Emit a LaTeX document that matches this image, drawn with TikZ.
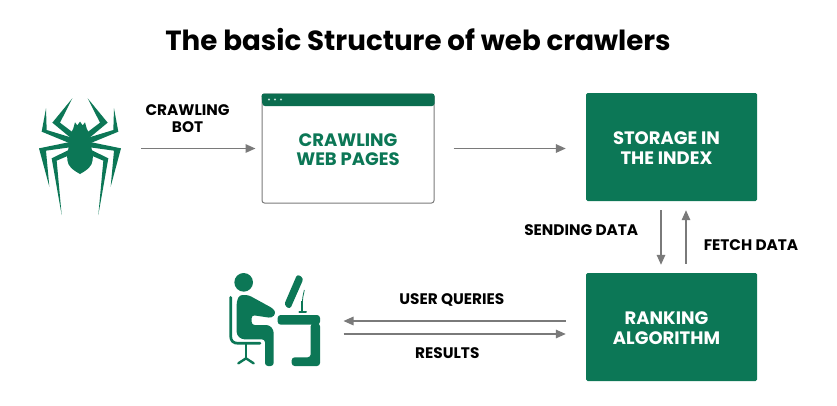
\documentclass[tikz,border=0pt]{standalone}
\usepackage{fontspec}
\setmainfont{Poppins}
\usepackage{tikz}
\usetikzlibrary{positioning, arrows.meta}
\definecolor{webgreen}{HTML}{0C7756}
\definecolor{flowgray}{HTML}{7A7A7A}
\tikzset{
->, % directed connectors
>={Triangle[length=10pt, width=8.5pt]}, % solid heads
flow/.style={draw=flowgray, line width=1.5pt},
every edge/.append style={flow},
caption/.style={font=\fontsize{15.3}{17}\selectfont\bfseries, align=center, text=black, inner sep=0pt},
greenbox/.style={fill=webgreen, minimum width=171pt, minimum height=108pt, rounded corners=1.5pt},
boxtext/.style={text=white, font=\fontsize{18}{20}\selectfont\bfseries, align=center, xshift=-5pt, yshift=-0.7pt, inner sep=0pt},
pagebox/.style={draw=flowgray, line width=1pt, fill=white, minimum width=172pt, minimum height=109pt, rounded corners=2.5pt},
pagetext/.style={text=webgreen, font=\fontsize{18}{19.5}\selectfont\bfseries, align=center, yshift=-1pt, inner sep=0pt},
iconbox/.style={inner sep=0pt, outer sep=0pt},
}

\begin{document}
\begin{tikzpicture}[x=1pt, y=-1pt]
    \useasboundingbox[-] (0,0) rectangle (837,405);
    \node[font=\fontsize{27.7}{32}\selectfont\bfseries] (title) at (418,40) {The basic Structure of web crawlers};

    % the nodes
    \node[iconbox, minimum width=84pt, minimum height=116pt] (spider) at (80,148.5) {};
    \node[pagebox, right of=spider, node distance=268pt,
        label={[pagetext, name=pagestext]center:{CRAWLING\\WEB PAGES}}] (pages) {};
    \node[greenbox, right of=pages, node distance=323.5pt, yshift=1.5pt,
        label={[boxtext, name=storagetext]center:{STORAGE IN\\THE INDEX}}] (storage) {};
    \node[greenbox, below of=storage, node distance=180pt,
        label={[boxtext, name=rankingtext]center:{RANKING\\ALGORITHM}}] (ranking) {};
    \node[iconbox, minimum width=92pt, minimum height=94pt] (user) at (274.5,327) {};

    % spider
    \begin{scope}[shift={(80,80)}, scale=1/3, fill=webgreen, draw=none]
        \foreach \side in {1,-1}{
            \begin{scope}[xscale=\side]
                \fill (-23,55) -- (-83,128) -- (-25,176) -- (-18,160) -- (-60,128) -- cycle;
                \fill (-102,85) -- (-115,155) -- (-30,190) -- (-28,172) -- (-100,150) -- cycle;
                \fill (-92,320) -- (-123,205) -- (-30,186) -- (-30,202) -- (-102,212) -- cycle;
                \fill (-55,405) -- (-85,235) -- (-30,208) -- (-28,224) -- (-70,242) -- cycle;
                \fill (0,125) -- (-8,136) -- (-15,127) -- (-20,145)
                    .. controls (-30,160) and (-30,180) .. (-32,195)
                    .. controls (-36,210) and (-40,225) .. (-38,240)
                    .. controls (-36,258) and (-25,268) .. (0,282) -- cycle;
            \end{scope}
        }
    \end{scope}

    % person at the desk
    \begin{scope}[shift={(210,260)}, scale=1/3, webgreen]
        \fill (101,67) circle (28);
        \draw[-, line width=2.7pt, line cap=round] (62,112) -- (62,228) .. controls (62,243) and (70,250) .. (85,250) -- (150,250);
        \draw[-, line width=2.6pt] (108,250) -- (108,295);
        \draw[-, line width=2.4pt, line cap=round] (85,310) -- (108,295) -- (131,310);
        \fill[rounded corners=3pt] (80,125) -- (88,105) -- (115,105) -- (190,146) -- (198,160) -- (185,174)
            -- (125,165) -- (125,195) -- (178,195) -- (191,210) -- (191,318) -- (165,318) -- (165,238) -- (95,238) -- (80,225) -- cycle;
        \fill[rounded corners=3pt] (262,42) -- (281,55) -- (240,148) -- (222,135) -- cycle;
        \draw[-, line width=0.8pt] (283,90) .. controls (280,105) and (277,115) .. (277,125);
        \draw[-, line width=1.8pt] (277,122) -- (277,155);
        \draw[-, line width=2pt, line cap=round] (268,157) -- (288,157);
        \fill[rounded corners=3pt] (203,165) rectangle (330,194);
        \fill[rounded corners=3pt] (302,190) -- (330,190) -- (330,318) -- (245,318) -- (245,292) -- (302,292) -- cycle;
    \end{scope}

    % title bar of the page
    \fill[webgreen!92!black, rounded corners=2.5pt] (pages.north west) -- (pages.north east) -- ++(0,12.5) -- ++(-172,0) -- cycle;
    \foreach \dotx in {7.5,13.5,19.5}
        \fill[white!75!webgreen] ([xshift=\dotx pt, yshift=-6pt]pages.north west) circle (1.1);

    % the connectors
    \path
        (spider) edge[shorten <=19pt, shorten >=6pt] node[caption, above=15pt, pos=0.47] (botlabel) {CRAWLING\\BOT} (pages)
        (pages.east) edge[shorten <=19pt, shorten >=20pt] (pages.east -| storage.west)
        ([xshift=-10.5pt]storage.south) edge[shorten <=9pt, shorten >=8pt] node[caption, left=22pt, pos=0.41] (sendlabel) {SENDING DATA} ([xshift=-10.5pt]ranking.north)
        ([xshift=14.5pt]ranking.north) edge[shorten <=9pt, shorten >=9pt] node[caption, right=17pt, pos=0.39] (fetchlabel) {FETCH DATA} ([xshift=14.5pt]storage.south)
        ([yshift=6pt]ranking.west) edge[shorten <=20pt, shorten >=23pt] node[caption, above=14pt, pos=0.505] (querylabel) {USER QUERIES} ([yshift=6pt]user.east)
        ([yshift=-7pt]user.east) edge[shorten <=23pt, shorten >=20pt] node[caption, below=13pt, pos=0.478] (resultlabel) {RESULTS} ([yshift=-7pt]ranking.west)
        ;
\end{tikzpicture}
\end{document}
